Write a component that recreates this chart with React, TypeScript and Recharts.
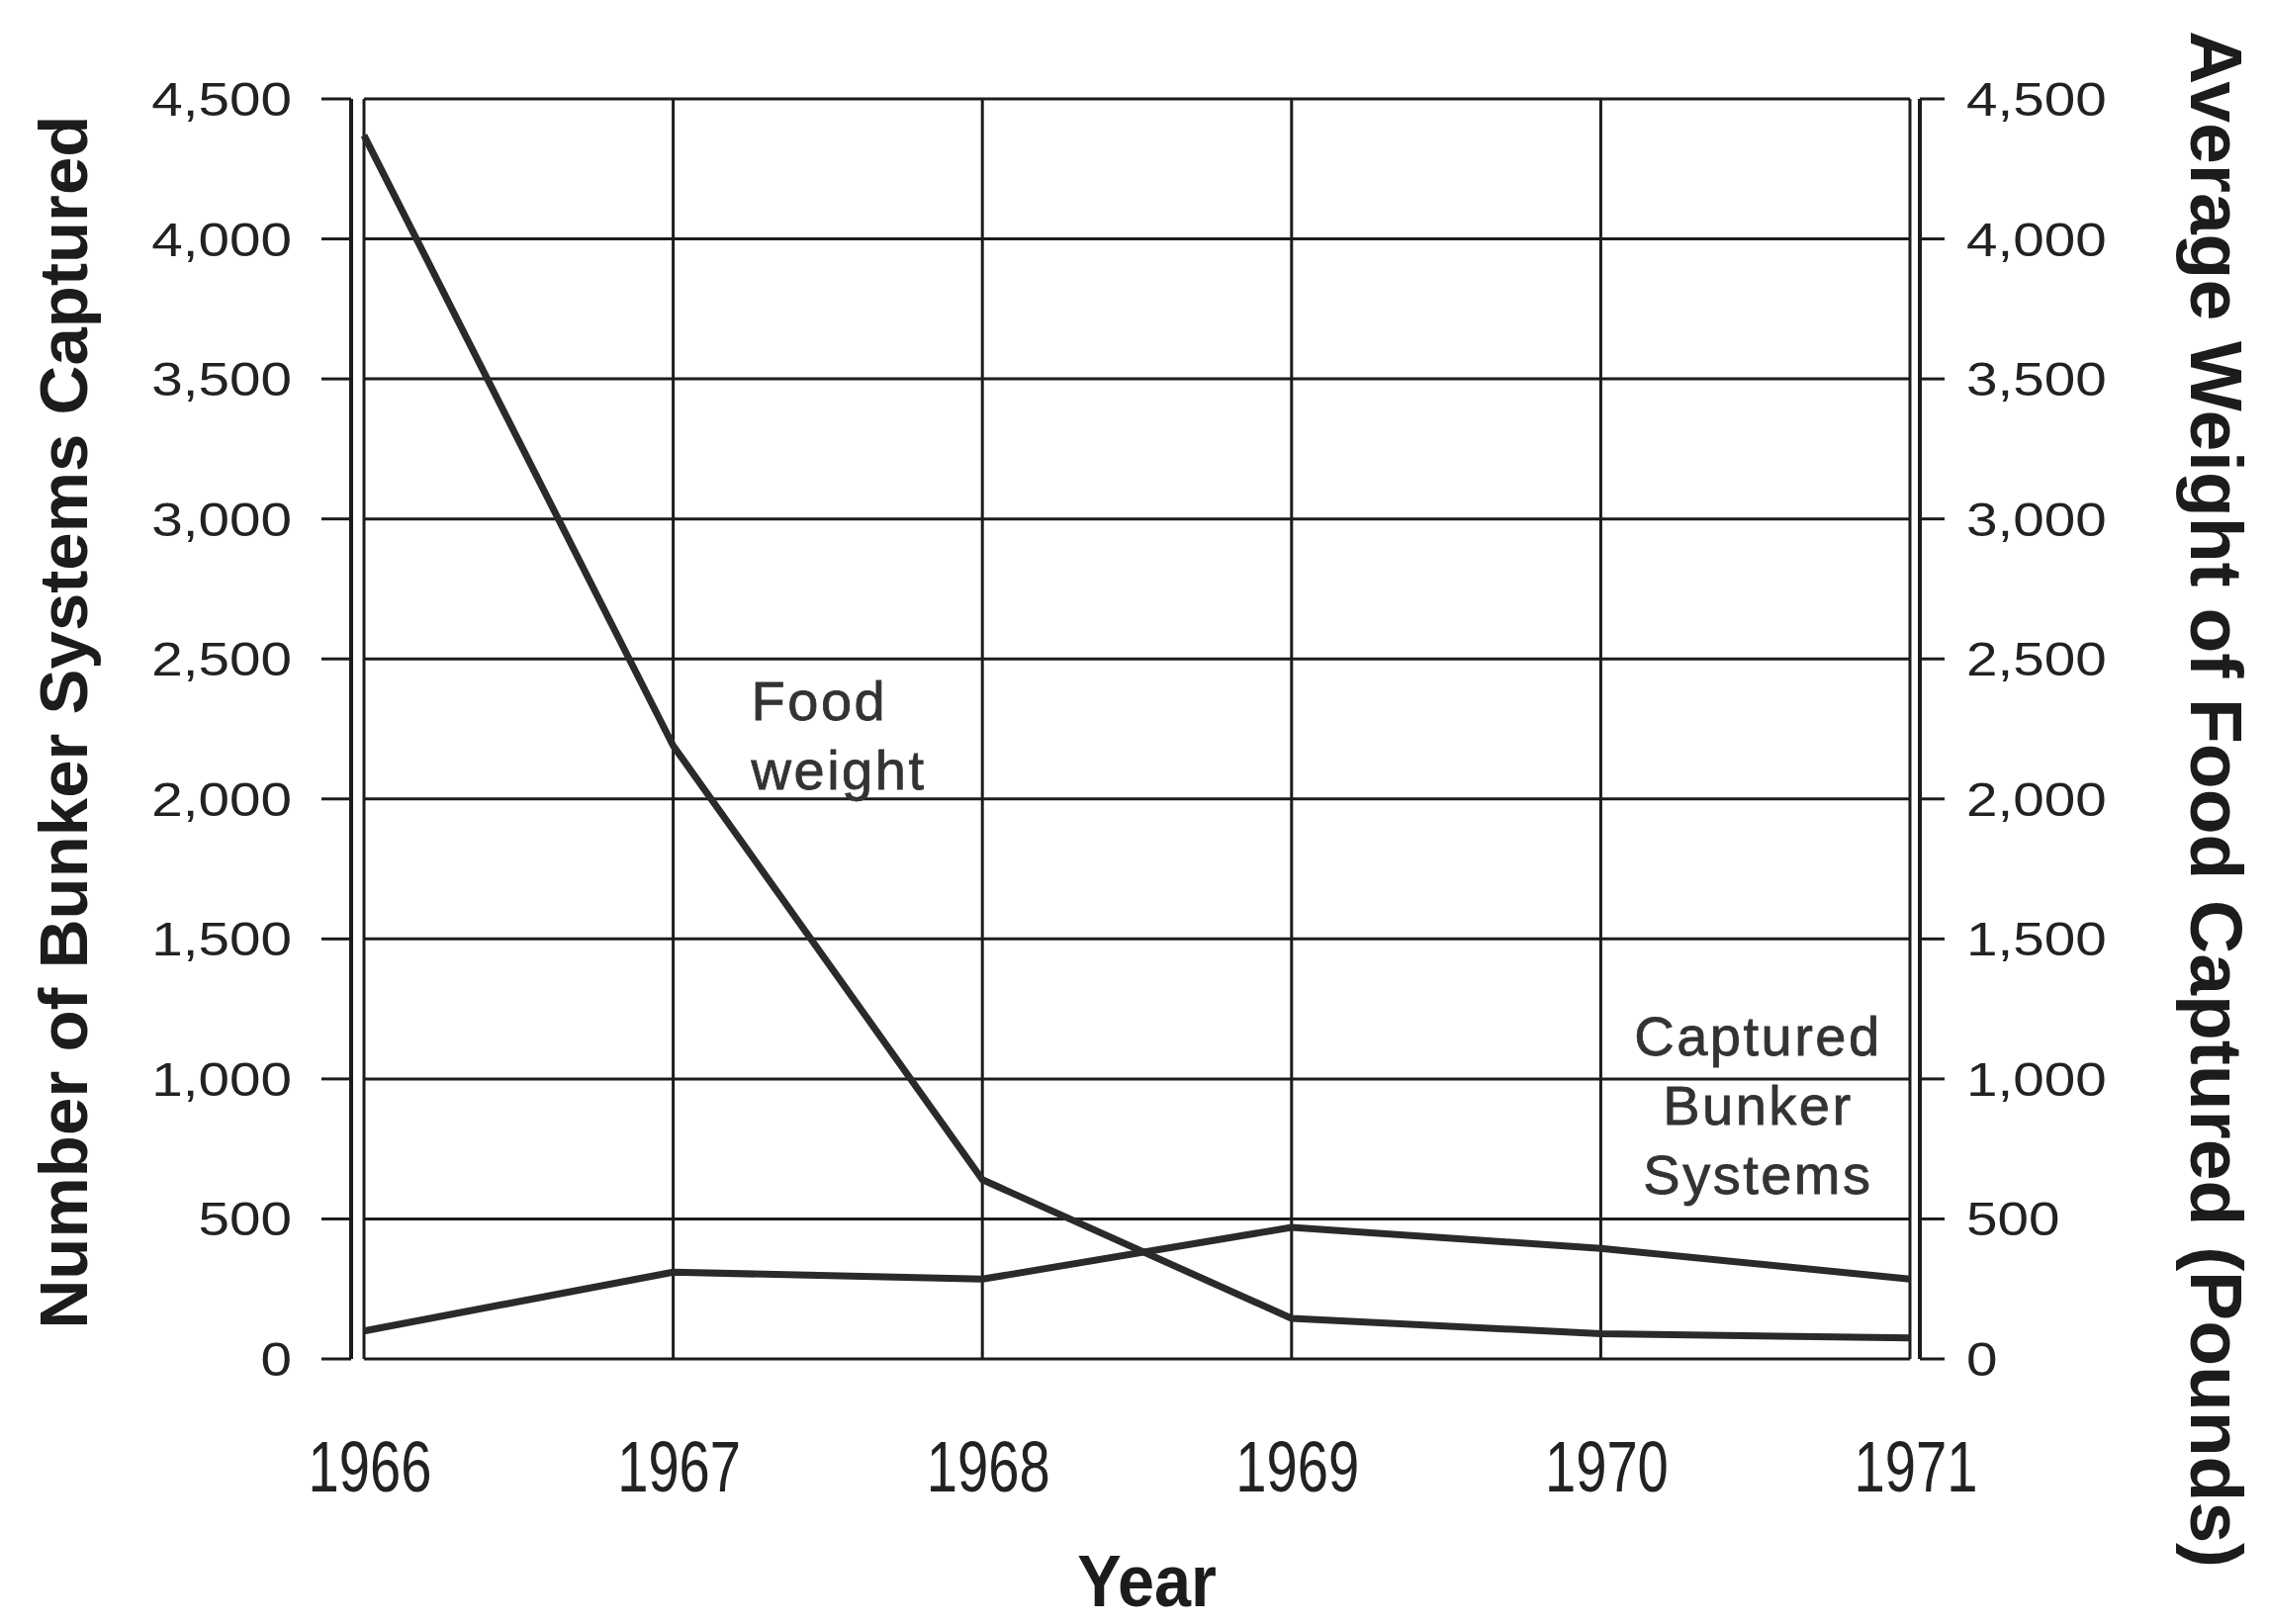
import { LineChart, Line, XAxis, YAxis, CartesianGrid, ReferenceDot } from 'recharts'

const years = ['1966', '1967', '1968', '1969', '1970', '1971']
const bunkersCaptured = [100, 310, 285, 470, 395, 285]
const foodWeight = [4370, 2190, 640, 145, 90, 75]
const yTicks = [0, 500, 1000, 1500, 2000, 2500, 3000, 3500, 4000, 4500]
const foodLabel = ['Food', 'weight']
const bunkerLabel = ['Captured', 'Bunker', 'Systems']

const data = years.map((year, i) => ({
  year,
  bunkers: bunkersCaptured[i],
  food: foodWeight[i],
}))

const FONT = '"Liberation Sans", Arial, Helvetica, sans-serif'
const INK = '#1c1c1c'
const LINE = '#2a2a2a'

const fmt = (v: number) => v.toLocaleString('en-US')

function LeftTick({ x, y, payload }: any) {
  return (
    <text transform={`translate(${x} ${y + 17}) scale(1.18 1)`} textAnchor="end"
      fontSize={48} fill="#222" fontFamily={FONT}>
      {fmt(payload.value)}
    </text>
  )
}

function RightTick({ x, y, payload }: any) {
  return (
    <text transform={`translate(${x} ${y + 17}) scale(1.18 1)`} textAnchor="start"
      fontSize={48} fill="#222" fontFamily={FONT}>
      {fmt(payload.value)}
    </text>
  )
}

function YearTick({ x, y, payload }: any) {
  return (
    <text transform={`translate(${x + 6} ${y + 134}) scale(0.78 1)`} textAnchor="middle"
      fontSize={72} fill="#222" fontFamily={FONT}>
      {payload.value}
    </text>
  )
}

// multi-line text note pinned to a data point, offset in px
function Note({ viewBox, lines, dx, dy, anchor, gap }: any) {
  if (!viewBox) return null
  const cx = viewBox.x + (viewBox.width || 0) / 2
  const cy = viewBox.y + (viewBox.height || 0) / 2
  return (
    <g>
      {lines.map((t: string, i: number) => (
        <text key={t} x={cx + dx} y={cy + dy + i * gap} textAnchor={anchor}
          fontSize={56} letterSpacing={2.5} fill="#333" stroke="#333" strokeWidth={0.8}
          fontFamily={FONT}>
          {t}
        </text>
      ))}
    </g>
  )
}

export default function App() {
  return (
    <div style={{ width: 2294, height: 1640, background: '#fff' }}>
      <style>{'body{margin:0;overflow:hidden;background:#fff}'}</style>
      <LineChart width={2294} height={1640} data={data}
        margin={{ top: 100, right: 20, bottom: 20, left: 20 }}>
        <CartesianGrid yAxisId="left" stroke={INK} strokeWidth={3} />
        <XAxis dataKey="year" interval={0} axisLine={false} tickLine={false}
          tickSize={0} tickMargin={0} height={246} padding={{ left: 0, right: 0 }}
          tick={<YearTick />}
          label={({ viewBox }: any) => {
            const x = viewBox.x + viewBox.width / 2 + 10
            const y = viewBox.y + 250
            return (
              <text transform={`translate(${x} ${y}) scale(0.9 1)`} textAnchor="middle"
                fontSize={74} fontWeight="bold" fill={INK} fontFamily={FONT}>
                Year
              </text>
            )
          }}
        />
        {/* thin spacer axes sort before the real ones, leaving a gap between axis line and plot frame */}
        <YAxis yAxisId="_padL" orientation="left" width={13} domain={[0, 4500]}
          tick={false} axisLine={false} tickLine={false} />
        <YAxis yAxisId="left" orientation="left" width={335} domain={[0, 4500]}
          ticks={yTicks} interval={0} tickSize={30} tickMargin={30}
          axisLine={{ stroke: INK, strokeWidth: 4 }} tickLine={{ stroke: INK, strokeWidth: 3 }}
          tick={<LeftTick />}
          label={({ viewBox }: any) => {
            const x = viewBox.x + 68
            const y = viewBox.y + viewBox.height / 2 - 7
            return (
              <text x={x} y={y} transform={`rotate(-90 ${x} ${y})`} textAnchor="middle"
                fontSize={69} fontWeight="bold" fill={INK} fontFamily={FONT}>
                Number of Bunker Systems Captured
              </text>
            )
          }}
        />
        <YAxis yAxisId="_padR" orientation="right" width={10} domain={[0, 4500]}
          tick={false} axisLine={false} tickLine={false} />
        <YAxis yAxisId="right" orientation="right" width={333} domain={[0, 4500]}
          ticks={yTicks} interval={0} tickSize={25} tickMargin={22} allowDataOverflow
          axisLine={{ stroke: INK, strokeWidth: 4 }} tickLine={{ stroke: INK, strokeWidth: 3 }}
          tick={<RightTick />}
          label={({ viewBox }: any) => {
            const x = viewBox.x + 274
            const y = viewBox.y + viewBox.height / 2 + 71
            return (
              <text x={x} y={y} transform={`rotate(90 ${x} ${y})`} textAnchor="middle"
                fontSize={75} fontWeight="bold" fill={INK} fontFamily={FONT}>
                Average Weight of Food Captured (Pounds)
              </text>
            )
          }}
        />
        <Line yAxisId="left" type="linear" dataKey="bunkers" stroke={LINE} strokeWidth={7}
          strokeLinejoin="round" dot={false} activeDot={false} isAnimationActive={false} />
        <Line yAxisId="right" type="linear" dataKey="food" stroke={LINE} strokeWidth={7}
          strokeLinejoin="round" dot={false} activeDot={false} isAnimationActive={false} />
        <ReferenceDot yAxisId="left" x="1967" y={2250} r={1} fillOpacity={0} strokeOpacity={0}
          label={(p: any) => <Note {...p} lines={foodLabel} dx={79} dy={-9} gap={70} anchor="start" />} />
        <ReferenceDot yAxisId="left" x="1970" y={1000} r={1} fillOpacity={0} strokeOpacity={0}
          label={(p: any) => <Note {...p} lines={bunkerLabel} dx={159} dy={-24} gap={70} anchor="middle" />} />
      </LineChart>
    </div>
  )
}
